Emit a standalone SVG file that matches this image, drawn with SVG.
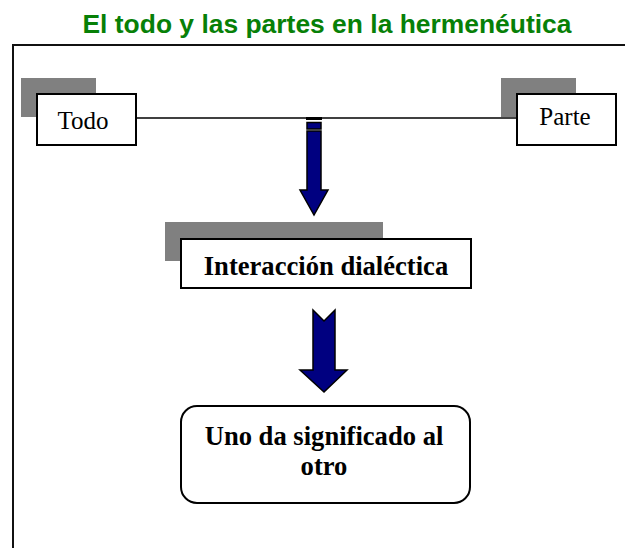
<svg xmlns="http://www.w3.org/2000/svg" width="625" height="548" viewBox="0 0 625 548">
<style>
.title{font-family:"Liberation Sans",Arial,sans-serif;font-weight:bold;font-size:25px;fill:#078007}
.lbl{font-family:"Liberation Serif","Times New Roman",serif;font-size:25px;fill:#000}
.blbl{font-family:"Liberation Serif","Times New Roman",serif;font-weight:bold;font-size:26.6px;fill:#000}
.box{fill:#fff;stroke:#000;stroke-width:2}
.shadow{fill:#808080}
.arrow{fill:#000080;stroke:#000;stroke-width:1.5;stroke-linejoin:miter}
</style>
<rect width="625" height="548" fill="#fff"/>
<text class="title" x="327" y="33" text-anchor="middle" textLength="489" lengthAdjust="spacingAndGlyphs">El todo y las  partes en la hermenéutica</text>
<path d="M13,548 V45 H625" fill="none" stroke="#111" stroke-width="2"/>
<g id="connectors">
<line x1="136" y1="118" x2="517" y2="118" stroke="#000" stroke-width="1.5"/>
<rect x="306" y="117" width="16" height="3" fill="#000"/>
<rect x="307" y="122.5" width="14" height="6.5" class="arrow"/>
<path class="arrow" d="M307,131 H321 V190 H328 L314,215 L300,190 H307 Z"/>
<path class="arrow" d="M313,310 L324,321 L335,310 V370 H347 L324,392 L300,370 H313 Z"/>
</g>
<g id="todo">
<rect class="shadow" x="21" y="78" width="75" height="39"/>
<rect class="box" x="37" y="94" width="99" height="51"/>
<text class="lbl" x="83" y="129" text-anchor="middle">Todo</text>
</g>
<g id="parte">
<rect class="shadow" x="501" y="78" width="75" height="39"/>
<rect class="box" x="517" y="94" width="99" height="51"/>
<text class="lbl" x="565" y="125" text-anchor="middle">Parte</text>
</g>
<g id="interaccion">
<rect class="shadow" x="165" y="222" width="218" height="39"/>
<rect class="box" x="181" y="239" width="290" height="49"/>
<text class="blbl" x="326" y="275" text-anchor="middle">Interacción dialéctica</text>
</g>
<g id="uno">
<rect class="box" x="181" y="406" width="289" height="97" rx="16" ry="16"/>
<text class="blbl" x="324" y="445" text-anchor="middle">Uno da significado al</text>
<text class="blbl" x="324" y="475" text-anchor="middle">otro</text>
</g>
</svg>
